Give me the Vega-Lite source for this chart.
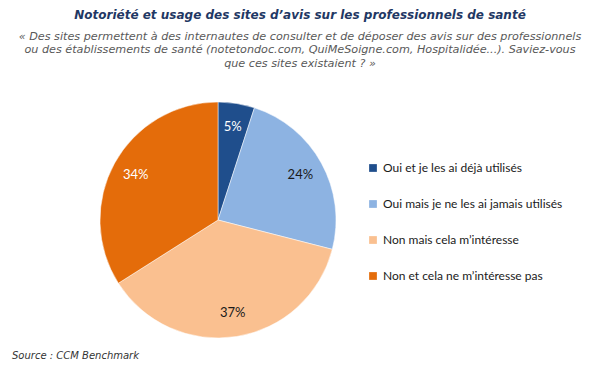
{
  "$schema": "https://vega.github.io/schema/vega-lite/v6.json",
  "autosize": {"type": "none"},
  "padding": {"left": 100, "top": 102, "right": 500, "bottom": 272},
  "background": "white",
  "title": {
    "text": "Notoriété et usage des sites d’avis sur les professionnels de santé",
    "subtitle": [
      "« Des sites permettent à des internautes de consulter et de déposer des avis sur des professionnels",
      "ou des établissements de santé (notetondoc.com, QuiMeSoigne.com, Hospitalidée...). Saviez-vous",
      "que ces sites existaient ? »"
    ],
    "anchor": "middle",
    "frame": "group",
    "dx": 82,
    "offset": 31,
    "font": "DejaVu Sans",
    "fontSize": 12,
    "fontWeight": "bold",
    "fontStyle": "italic",
    "color": "#1F3864",
    "subtitleFont": "DejaVu Sans",
    "subtitleFontSize": 11.2,
    "subtitleFontStyle": "italic",
    "subtitleColor": "#595959",
    "subtitleLineHeight": 13.5,
    "subtitlePadding": 9
  },
  "vconcat": [
    {
      "width": 236,
      "height": 236,
      "title": {
        "text": "Source : CCM Benchmark",
        "orient": "bottom",
        "anchor": "start",
        "frame": "group",
        "dx": -88,
        "offset": 12,
        "font": "DejaVu Sans",
        "fontSize": 10,
        "fontWeight": "normal",
        "fontStyle": "italic",
        "color": "#333333"
      },
      "data": {
        "values": [
          {"reponse": "Oui et je les ai déjà utilisés", "part": 0.05, "rang": 1},
          {"reponse": "Oui mais je ne les ai jamais utilisés", "part": 0.24, "rang": 2},
          {"reponse": "Non mais cela m’intéresse", "part": 0.37, "rang": 3},
          {"reponse": "Non et cela ne m’intéresse pas", "part": 0.34, "rang": 4}
        ]
      },
      "encoding": {
        "theta": {"field": "part", "type": "quantitative", "stack": true},
        "order": {"field": "rang", "type": "quantitative", "sort": "ascending"}
      },
      "layer": [
        {
          "mark": {"type": "arc", "radius": 118, "stroke": "white", "strokeWidth": 0.5},
          "encoding": {
            "color": {
              "field": "reponse",
              "type": "nominal",
              "scale": {
                "domain": [
                  "Oui et je les ai déjà utilisés",
                  "Oui mais je ne les ai jamais utilisés",
                  "Non mais cela m’intéresse",
                  "Non et cela ne m’intéresse pas"
                ],
                "range": ["#1F4E8C", "#8DB3E2", "#FAC090", "#E46C0A"]
              },
              "legend": {
                "title": null,
                "orient": "none",
                "legendX": 267,
                "legendY": 60,
                "symbolType": "square",
                "symbolSize": 60,
                "symbolStrokeWidth": 0,
                "labelFont": "Lato",
                "labelFontSize": 12,
                "labelColor": "#1a1a1a",
                "labelLimit": 300,
                "rowPadding": 24,
                "labelOffset": 4
              }
            }
          }
        },
        {
          "mark": {"type": "text", "radius": 94, "font": "Lato", "fontSize": 13},
          "encoding": {
            "text": {"field": "part", "type": "quantitative", "format": ".0%"},
            "color": {
              "condition": {"test": "datum.rang == 1 || datum.rang == 4", "value": "white"},
              "value": "#1a1a1a"
            }
          }
        }
      ]
    }
  ]
}
